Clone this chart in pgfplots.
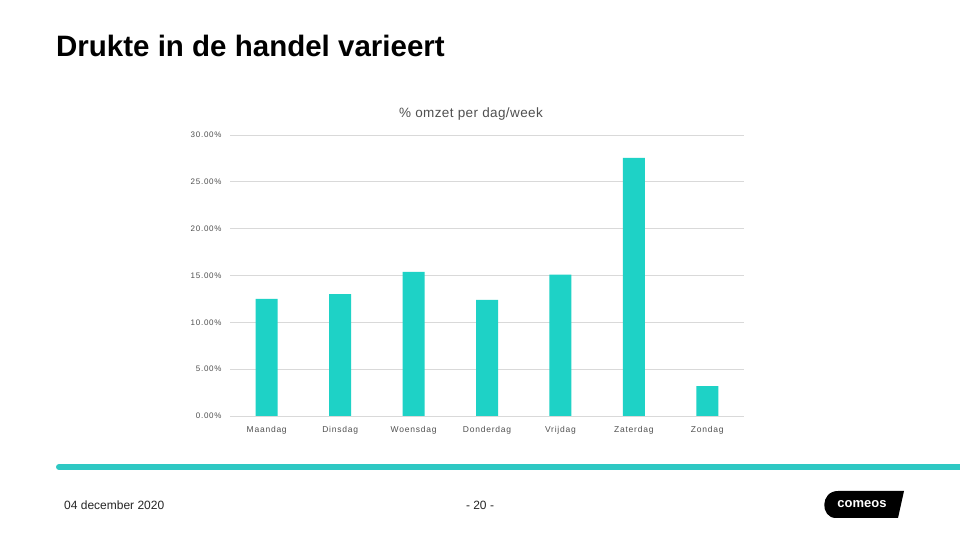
\documentclass[border=0pt]{standalone}
\usepackage{fontspec}
\setmainfont{Liberation Sans}
\newfontfamily\spaced[LetterSpace=9]{Liberation Sans}
\newfontfamily\spacedtitle[LetterSpace=3]{Liberation Sans}
\usepackage{pgfplots}
\pgfplotsset{compat=1.18}
\definecolor{barteal}{RGB}{30,210,198}
\definecolor{lineteal}{RGB}{46,200,195}
\definecolor{txtgray}{RGB}{80,80,80}
\begin{document}
\begin{tikzpicture}
\fill[white] (0,0) rectangle (960bp,540bp);
% main title
\node[anchor=base west, inner sep=0pt, text=black] at (56bp,483bp) {\fontsize{29.5bp}{31bp}\selectfont\bfseries Drukte in de handel varieert};
\begin{axis}[
  at={(230bp,124bp)}, anchor=south west,
  scale only axis, width=514bp, height=281bp,
  xmin=-0.5, xmax=6.5, ymin=0, ymax=30,
  ytick={0,5,...,30},
  xtick={0,...,6},
  xticklabels={Maandag,Dinsdag,Woensdag,Donderdag,Vrijdag,Zaterdag,Zondag},
  ymajorgrids, grid style={draw=black!15, line width=0.8bp},
  axis line style={draw=none},
  major tick style={draw=none},
  ybar, bar width=22bp,
  /pgf/number format/assume math mode=true,
  yticklabel={\pgfmathprintnumber[fixed,fixed zerofill,precision=2]{\tick}\%},
  yticklabel style={font=\spaced\fontsize{8bp}{9bp}\selectfont, text=txtgray, xshift=-5bp},
  xticklabel style={font=\spaced\fontsize{8.5bp}{10bp}\selectfont, text=txtgray, yshift=-3bp},
]
\addplot[fill=barteal, draw=none] coordinates {(0,12.5) (1,13.0) (2,15.4) (3,12.4) (4,15.1) (5,27.55) (6,3.2)};
\end{axis}
\node[text=txtgray] at (471bp,426bp) {\spacedtitle\fontsize{13.5bp}{15bp}\selectfont \% omzet per dag/week};
% footer line
\fill[lineteal] (59bp,73bp) circle (3bp);
\fill[lineteal] (59bp,70bp) rectangle (960bp,76bp);
% footer texts
\node[anchor=west, inner sep=0pt, text=black!85] at (64bp,35bp) {\fontsize{12bp}{14bp}\selectfont 04 december 2020};
\node[inner sep=0pt, text=black!85] at (480bp,35bp) {\fontsize{12bp}{14bp}\selectfont - 20 -};
% logo
\fill[black] (836bp,22bp) .. controls (820bp,22bp) and (820bp,49bp) .. (838bp,49bp) -- (904bp,49bp) -- (898bp,22bp) -- cycle;
\node[text=white, inner sep=0pt] at (862bp,36bp) {\fontsize{13bp}{14bp}\selectfont\bfseries comeos};
\end{tikzpicture}
\end{document}
